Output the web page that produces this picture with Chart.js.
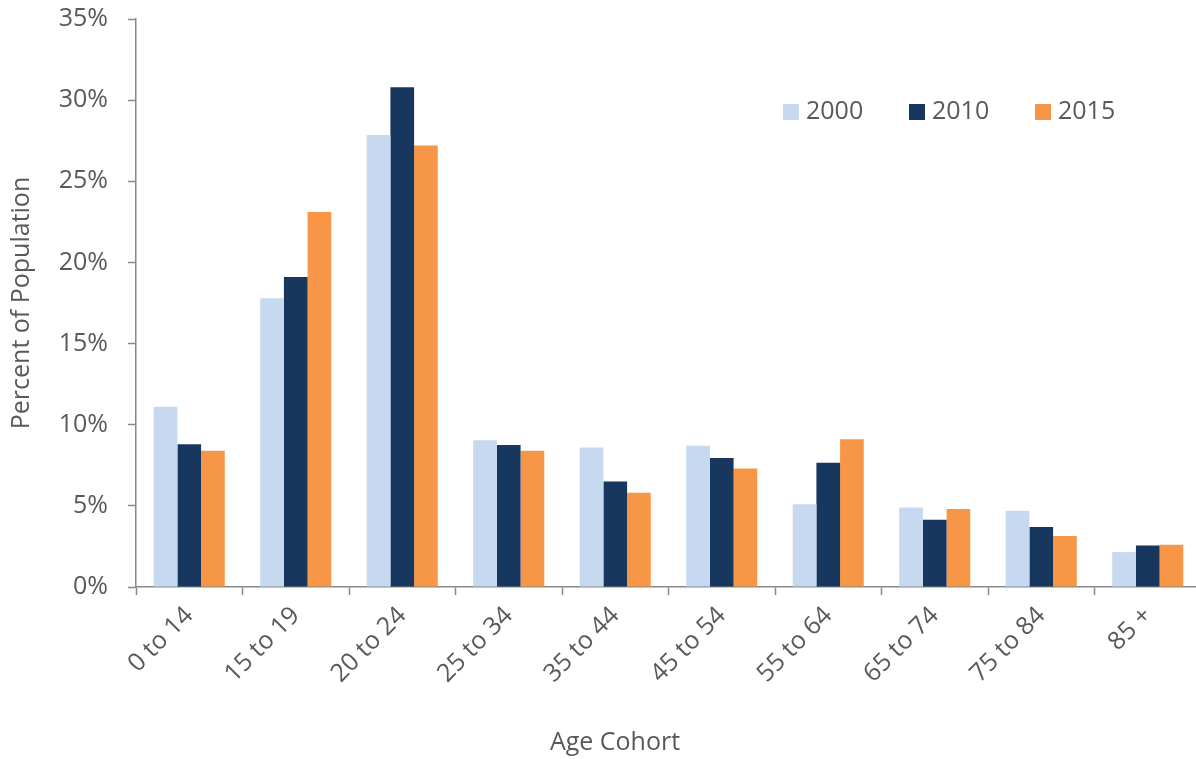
<!DOCTYPE html>
<html>
<head>
<meta charset="utf-8">
<script src="https://cdn.jsdelivr.net/npm/chart.js@4.4.1/dist/chart.umd.min.js"></script>
<style>
    html, body { margin: 0; padding: 0; background: #ffffff; overflow: hidden; }
    canvas { display: block; }
</style>
</head>
<body>
<canvas id="cohortChart" width="1201" height="759"></canvas>
<script>
// Share of population by age cohort, three census years

const cohorts = ["0 to 14", "15 to 19", "20 to 24", "25 to 34", "35 to 44",
                 "45 to 54", "55 to 64", "65 to 74", "75 to 84", "85 +"];

const pct2000 = [11.1, 17.8, 27.85, 9.05, 8.6, 8.7, 5.1, 4.9, 4.7, 2.15];
const pct2010 = [8.8, 19.1, 30.8, 8.75, 6.5, 7.95, 7.65, 4.15, 3.7, 2.55];
const pct2015 = [8.4, 23.1, 27.2, 8.4, 5.8, 7.3, 9.1, 4.8, 3.15, 2.6];

const yTicks = [0, 5, 10, 15, 20, 25, 30, 35];

const xTitle = "Age Cohort";

const COLORS = {
    y2000: "#C6D9F1",
    y2010: "#17375E",
    y2015: "#F79646",
    axis:  "#898989",
    text:  "#595959",
};

const FONT = "'Open Sans', 'Noto Sans', sans-serif";
const FONT_SIZE = 25;

// Legend sits inside the plot, upper right; x title drawn by hand
// so it can sit left of the plot centre
const overlays = {
    id: "overlays",
    afterDraw(chart) {
        const ctx = chart.ctx;
        const startX = 783, boxTop = 104, box = 16, step = 126;
        ctx.save();
        ctx.font = FONT_SIZE + "px " + FONT;
        ctx.textBaseline = "middle";
        ctx.textAlign = "left";
        chart.data.datasets.forEach((ds, i) => {
            const x = startX + i * step;
            ctx.fillStyle = ds.backgroundColor;
            ctx.fillRect(x, boxTop, box, box);
            ctx.fillStyle = COLORS.text;
            ctx.fillText(ds.label, x + box + 7, boxTop + box / 2);
        });
        ctx.textAlign = "center";
        ctx.fillText(xTitle, 615, 743);
        ctx.restore();
    }
};

const ctx = document.getElementById("cohortChart").getContext("2d");

new Chart(ctx, {
    type: "bar",
    data: {
        labels: cohorts,
        datasets: [
            { label: "2000", data: pct2000, backgroundColor: COLORS.y2000 },
            { label: "2010", data: pct2010, backgroundColor: COLORS.y2010 },
            { label: "2015", data: pct2015, backgroundColor: COLORS.y2015 },
        ].map(ds => ({ ...ds, categoryPercentage: 0.667, barPercentage: 1.0, borderWidth: 0 })),
    },
    options: {
        responsive: false,
        animation: false,
        layout: { padding: { top: 19, right: 0, bottom: 0, left: 0 } },
        plugins: {
            legend:  { display: false },
            tooltip: { enabled: false },
        },
        scales: {
            x: {
                grid: {
                    drawOnChartArea: false,
                    drawTicks: true,
                    tickLength: 8,
                    tickWidth: 1.5,
                    tickColor: COLORS.axis,
                    offset: true,
                },
                border: { color: COLORS.axis, width: 1.5 },
                ticks: {
                    color: COLORS.text,
                    font: { family: FONT, size: FONT_SIZE },
                    maxRotation: 45,
                    minRotation: 45,
                    padding: 6,
                },
                afterFit(scale) {
                    scale.height = 172;
                    scale.paddingLeft = 0;
                    scale.paddingRight = 0;
                },
            },
            y: {
                min: 0,
                max: 35,
                afterBuildTicks(scale) { scale.ticks = yTicks.map(v => ({ value: v })); },
                grid: {
                    drawOnChartArea: false,
                    drawTicks: true,
                    tickLength: 8,
                    tickWidth: 1.5,
                    tickColor: COLORS.axis,
                },
                border: { color: COLORS.axis, width: 1.5 },
                ticks: {
                    color: COLORS.text,
                    font: { family: FONT, size: FONT_SIZE },
                    padding: 20,
                    callback: v => v + "%",
                },
                title: {
                    display: true,
                    text: "Percent of Population",
                    color: COLORS.text,
                    font: { family: FONT, size: FONT_SIZE },
                    padding: { top: 7, bottom: 0 },
                },
                afterFit(scale) {
                    scale.width = 136;
                    // plot top lines up with the 35% tick, not pushed down by its label
                    scale.paddingTop = 0;
                    scale.paddingBottom = 0;
                },
            },
        },
    },
    plugins: [overlays],
});
</script>
</body>
</html>
